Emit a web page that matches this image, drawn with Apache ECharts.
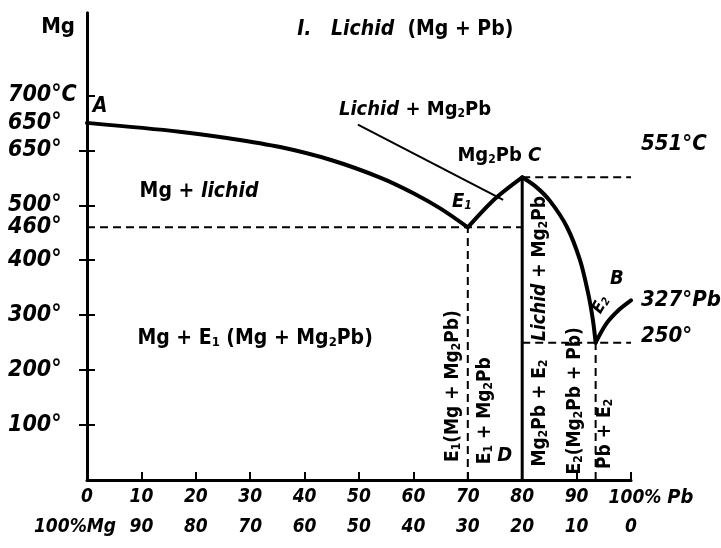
<!DOCTYPE html>
<html>
<head>
<meta charset="utf-8">
<script src="https://cdn.jsdelivr.net/npm/echarts@6/dist/echarts.min.js"></script>
<style>
html,body{margin:0;padding:0;background:#fff}
#chart{width:721px;height:548px}
</style>
</head>
<body>
<div id="chart"></div>
<script>
// Mg–Pb equilibrium diagram: composition (% Pb) against temperature (°C)

// axis tick labels
const pbTicks = ['0','10','20','30','40','50','60','70','80','90','100% Pb'];
const mgTicks = ['100%Mg','90','80','70','60','50','40','30','20','10','0'];
const tempTickValues = [100,200,300,400,500,600,700];
const tempLabelValues = [100,200,300,400,460,500,600,650,700];
const tempLabelTexts = ['100°','200°','300°','400°','460°','500°','650°','650°','700°C'];
const rightTickValues = [100,200,300,400,500,600];
const rightLabelValues = [250,327,551];
const rightLabelTexts = ['250°','327°Pb','551°C'];

// liquidus branches [% Pb, °C]
const liquidusMg = [[0,650],[17,634],[26,622],[35.5,606],[45,582],[54,550],[60,522],[65,494],[70,460]];
const liquidusE1C = [[70,460],[75,512],[80,551]];
const liquidusCE2 = [[80,551],[82.5,534],[85.1,508],[88.2,461],[90.6,401],[92.1,341],[93.0,291],[93.5,250]];
const liquidusE2B = [[93.5,250],[95.5,285],[97.7,309],[100,327]];

// compound and eutectic lines
const compoundMg2Pb = [[80,0],[80,551]];
const eutectic1 = [[0,460],[80,460]];
const eutectic1Drop = [[70,0],[70,460]];
const meltLevelC = [[80,551],[100,551]];
const eutectic2 = [[80,250],[100,250]];
const eutectic2Drop = [[93.5,0],[93.5,250]];
const leaderLine = [[49.8,647],[76.5,510]];

// phase-field names
const regionTexts = [
  '{i|I.}   {i|Lichid}  (Mg + Pb)',
  '{i|Lichid} + Mg{s|2}Pb',
  'Mg{s|2}Pb {i|C}',
  '{i|A}',
  'Mg + {i|lichid}',
  '{i|E}{si|1}',
  'Mg + E{s|1} (Mg + Mg{s|2}Pb)',
  'E{s|1}(Mg + Mg{s|2}Pb)',
  'E{s|1} + Mg{s|2}Pb',
  '{i|D}',
  '{i|Lichid} + Mg{s|2}Pb',
  'Mg{s|2}Pb + E{s|2}',
  'E{s|2}(Mg{s|2}Pb + Pb)',
  'Pb + E{s|2}',
  '{i|B}',
  '{i|E}{si|2}'
];
const regionAnchors = [[58.5,820],[60.3,674],[75.8,590],[2.4,680],[20.6,525],[68.9,506],[30.9,257],
  [67.3,171],[73.2,126],[76.8,44],[83.3,385],[83.3,122],[89.7,144],[95.2,84],[97.4,366],[94.5,319]];
const regionTilt = [0,0,0,0,0,0,0,90,90,0,90,90,90,90,0,60];
const regionSize = [21,20,20,21,21,20,21,19,19,20,19,19,19,19,20,17];

const FONT = "'Liberation Sans Narrow','DejaVu Sans Condensed','Liberation Sans',sans-serif";
const INK = '#000';

function richFor(size) {
  const sub = Math.round(size * 0.62);
  return {
    i: {fontFamily: FONT, fontStyle: 'italic', fontWeight: 'bold', fontSize: size, color: INK},
    s: {fontFamily: FONT, fontWeight: 'bold', fontSize: sub, color: INK, verticalAlign: 'bottom', lineHeight: sub},
    si: {fontFamily: FONT, fontStyle: 'italic', fontWeight: 'bold', fontSize: sub, color: INK, verticalAlign: 'bottom', lineHeight: sub}
  };
}

function lineSeries(data, opts) {
  return Object.assign({
    type: 'line', data: data, showSymbol: false, silent: true,
    lineStyle: {color: INK, width: 2}, z: 3
  }, opts || {});
}
const dashed = {lineStyle: {color: INK, width: 2, type: [8, 5]}};
const thick = {lineStyle: {color: INK, width: 4, cap: 'round', join: 'round'}, smooth: 0.3};

const chart = echarts.init(document.getElementById('chart'), null, {renderer: 'canvas'});

chart.setOption({
  backgroundColor: '#fff',
  animation: false,
  grid: {left: 87, right: 90, top: 13, bottom: 68, containLabel: false, outerBoundsMode: 'none'},
  xAxis: [{
    type: 'value', min: 0, max: 100, interval: 10, position: 'bottom',
    axisLine: {show: true, lineStyle: {color: INK, width: 3}},
    axisTick: {show: true, inside: true, length: 8, lineStyle: {color: INK, width: 2}},
    splitLine: {show: false},
    axisLabel: {
      margin: 8, showMinLabel: true, showMaxLabel: true,
      fontFamily: FONT, fontSize: 19, fontStyle: 'italic', fontWeight: 'bold', color: INK,
      formatter: v => {
        const t = pbTicks[Math.round(v / 10)];
        return v === 100 ? '{pad|}{n|100%} {u|Pb}' : t;
      },
      rich: {
        pad: {width: 40},
        n: {fontFamily: FONT, fontSize: 19, fontStyle: 'italic', fontWeight: 'bold', color: INK},
        u: {fontFamily: FONT, fontSize: 20, fontWeight: 'bold', color: INK}
      }
    }
  }, {
    type: 'value', min: 0, max: 100, interval: 10, position: 'bottom',
    axisLine: {show: false}, axisTick: {show: false}, splitLine: {show: false},
    axisLabel: {
      margin: 38, showMinLabel: true, showMaxLabel: true,
      fontFamily: FONT, fontSize: 19, fontStyle: 'italic', fontWeight: 'bold', color: INK,
      formatter: v => {
        const t = mgTicks[Math.round(v / 10)];
        return v === 0 ? '{n|100%}{u|Mg}{pad|}' : t;
      },
      rich: {
        pad: {width: 24},
        n: {fontFamily: FONT, fontSize: 19, fontStyle: 'italic', fontWeight: 'bold', color: INK},
        u: {fontFamily: FONT, fontSize: 19, fontWeight: 'bold', color: INK}
      }
    }
  }],
  yAxis: [{
    type: 'value', min: 0, max: 850, position: 'left',
    name: 'Mg', nameLocation: 'end', nameGap: -14,
    nameTextStyle: {fontFamily: FONT, fontSize: 22, fontWeight: 'bold', color: INK, align: 'right', verticalAlign: 'middle', padding: [0, 12, 0, 0]},
    axisLine: {show: true, lineStyle: {color: INK, width: 3}},
    axisTick: {show: true, inside: true, length: 8, customValues: tempTickValues, lineStyle: {color: INK, width: 2}},
    splitLine: {show: false},
    axisLabel: {
      customValues: tempLabelValues, align: 'left', margin: 79,
      fontFamily: FONT, fontSize: 23, fontStyle: 'italic', fontWeight: 'bold', color: INK,
      formatter: v => tempLabelTexts[tempLabelValues.indexOf(v)]
    }
  }, {
    type: 'value', min: 0, max: 850, position: 'right',
    axisLine: {show: true, lineStyle: {color: INK, width: 3}},
    axisTick: {show: true, inside: true, length: 8, customValues: rightTickValues, lineStyle: {color: INK, width: 2}},
    splitLine: {show: false},
    axisLabel: {
      customValues: rightLabelValues, align: 'left', margin: 10,
      fontFamily: FONT, fontSize: 22, fontStyle: 'italic', fontWeight: 'bold', color: INK,
      formatter: v => {
        const t = rightLabelTexts[rightLabelValues.indexOf(v)];
        if (v === 551) return '{hi|' + t + '}';
        if (v === 327) return '{n|327°}{u|Pb}';
        if (v === 250) return '{lo|' + t + '}';
        return t;
      },
      rich: {
        hi: {fontFamily: FONT, fontSize: 22, fontStyle: 'italic', fontWeight: 'bold', color: INK, padding: [0, 0, 66, 0]},
        lo: {fontFamily: FONT, fontSize: 22, fontStyle: 'italic', fontWeight: 'bold', color: INK, padding: [0, 0, 12, 0]},
        n: {fontFamily: FONT, fontSize: 22, fontStyle: 'italic', fontWeight: 'bold', color: INK},
        u: {fontFamily: FONT, fontSize: 22, fontWeight: 'bold', color: INK}
      }
    }
  }],
  series: [
    lineSeries(liquidusMg, thick),
    lineSeries(liquidusE1C, thick),
    lineSeries(liquidusCE2, thick),
    lineSeries(liquidusE2B, thick),
    lineSeries(compoundMg2Pb, {lineStyle: {color: INK, width: 3}}),
    lineSeries(eutectic1, dashed),
    lineSeries(eutectic1Drop, dashed),
    lineSeries(meltLevelC, dashed),
    lineSeries(eutectic2, dashed),
    lineSeries(eutectic2Drop, dashed),
    lineSeries(leaderLine, {lineStyle: {color: INK, width: 2}}),
    {
      type: 'scatter', silent: true, symbol: 'circle', symbolSize: 0, z: 5,
      itemStyle: {color: INK, opacity: 1},
      label: {
        show: true, position: 'inside', align: 'center', verticalAlign: 'middle',
        fontFamily: FONT, fontWeight: 'bold', color: INK, opacity: 1, textBorderWidth: 0
      },
      data: regionTexts.map((t, i) => ({
        value: regionAnchors[i],
        label: {formatter: t, rotate: regionTilt[i], fontSize: regionSize[i], rich: richFor(regionSize[i])}
      }))
    }
  ]
});
</script>
</body>
</html>
